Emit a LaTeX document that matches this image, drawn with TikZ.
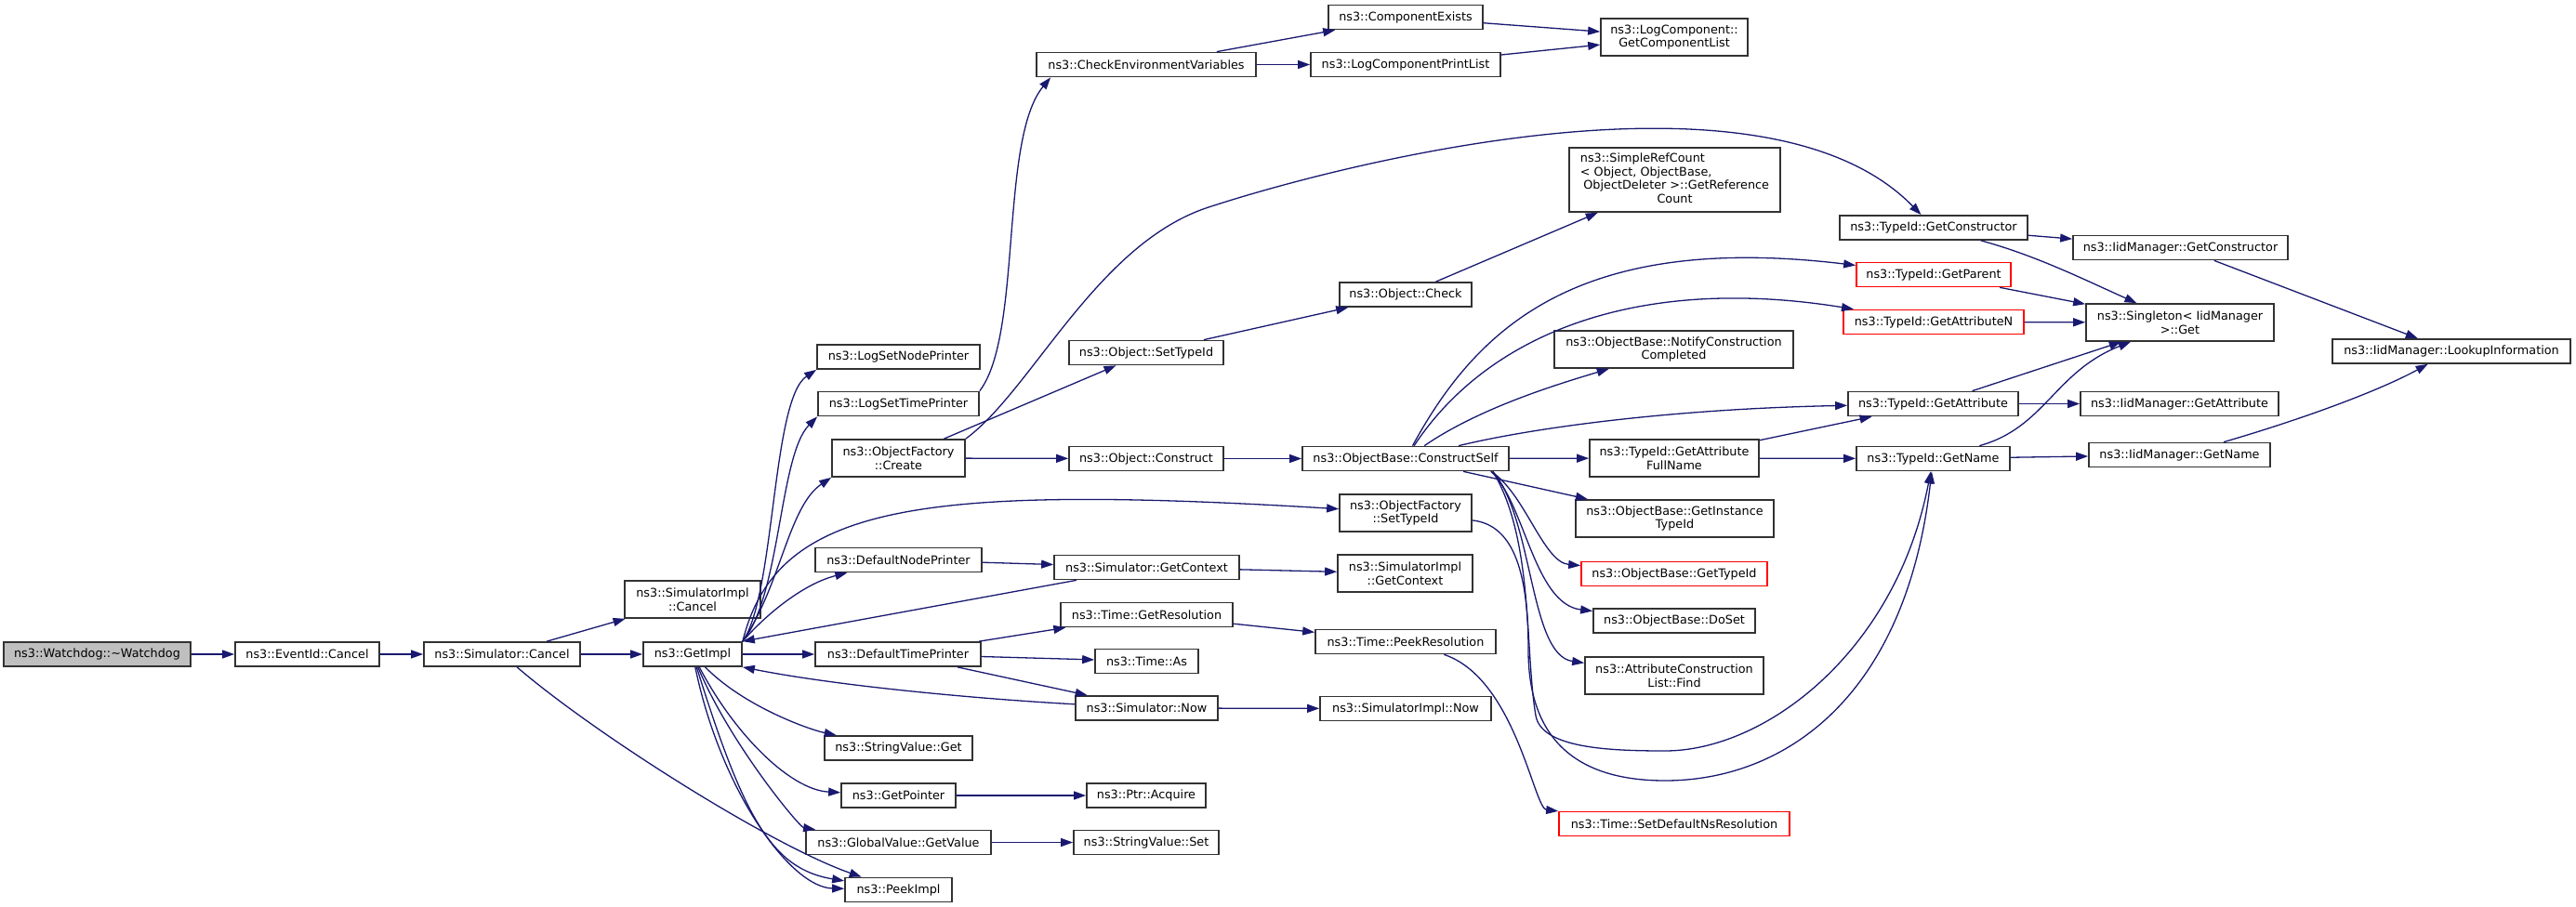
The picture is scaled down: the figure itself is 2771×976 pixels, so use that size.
\documentclass[tikz,border=0pt]{standalone}
\usepackage{fontspec}
\setmainfont{DejaVu Sans}
\usetikzlibrary{arrows.meta, calc}
\definecolor{EdgeBlue}{RGB}{25, 25, 112}
\definecolor{BoxLine}{RGB}{50, 50, 50}
\definecolor{BoxRed}{RGB}{255, 0, 0}
\definecolor{BoxGray}{RGB}{191, 191, 191}

\tikzset{
  fn/.style={draw=BoxLine, line width=1.7pt, fill=white, rectangle, minimum height=26pt,
    inner xsep=2pt, inner ysep=2pt, font=\fontsize{12.8}{14.7}\selectfont},
  fnred/.style={fn, draw=BoxRed},
  fnroot/.style={fn, fill=BoxGray},
  twoline/.style={align=center, minimum height=40pt},
  call/.style={draw=EdgeBlue, line width=1.3pt, -{Triangle[length=13pt, width=9pt]}}
}

\begin{document}
\begin{tikzpicture}[x=1pt, y=-1pt]
            \useasboundingbox (0,0) rectangle (2771,976);

            % Root and first calls
            \node[fnroot, minimum width=201pt] (wd) at (104.5,704) {ns3::Watchdog::\textasciitilde Watchdog};
            \node[fn, minimum width=155pt] (evc) at (330.5,704) {ns3::EventId::Cancel};
            \node[fn, minimum width=168pt] (simc) at (540,704) {ns3::Simulator::Cancel};
            \node[fn, twoline, minimum width=146pt] (simic) at (745,645) {ns3::SimulatorImpl\\::Cancel};
            \node[fn, minimum width=106pt] (gimpl) at (745,704) {ns3::GetImpl};

            % Called by GetImpl
            \node[fn, minimum width=175pt] (lsnp) at (966.5,384) {ns3::LogSetNodePrinter};
            \node[fn, minimum width=173pt] (lstp) at (966.5,434.5) {ns3::LogSetTimePrinter};
            \node[fn, twoline, minimum width=143pt] (ofc) at (966.5,493) {ns3::ObjectFactory\\::Create};
            \node[fn, minimum width=179pt] (dnp) at (966.5,602.5) {ns3::DefaultNodePrinter};
            \node[fn, minimum width=178pt] (dtp) at (966,704) {ns3::DefaultTimePrinter};
            \node[fn, minimum width=159pt] (svget) at (966.5,805) {ns3::StringValue::Get};
            \node[fn, minimum width=123pt] (gptr) at (966.5,856) {ns3::GetPointer};
            \node[fn, minimum width=199pt] (gvgv) at (966.5,906.5) {ns3::GlobalValue::GetValue};
            \node[fn, minimum width=115pt] (peek) at (966.5,957.5) {ns3::PeekImpl};

            % Third column
            \node[fn, minimum width=236pt] (cev) at (1233,69.5) {ns3::CheckEnvironmentVariables};
            \node[fn, minimum width=166pt] (osti) at (1233,379.5) {ns3::Object::SetTypeId};
            \node[fn, minimum width=166pt] (ocon) at (1233,493.5) {ns3::Object::Construct};
            \node[fn, minimum width=199pt] (sgc) at (1233.5,610.5) {ns3::Simulator::GetContext};
            \node[fn, minimum width=185pt] (tgr) at (1233.5,661.5) {ns3::Time::GetResolution};
            \node[fn, minimum width=111pt] (tas) at (1233.5,711.5) {ns3::Time::As};
            \node[fn, minimum width=153pt] (snow) at (1233.5,762) {ns3::Simulator::Now};
            \node[fn, minimum width=128pt] (pacq) at (1233,856) {ns3::Ptr::Acquire};
            \node[fn, minimum width=156pt] (svset) at (1233,906.5) {ns3::StringValue::Set};

            % Fourth column
            \node[fn, minimum width=166pt] (cex) at (1512,18.5) {ns3::ComponentExists};
            \node[fn, minimum width=204pt] (lcpl) at (1512,69.5) {ns3::LogComponentPrintList};
            \node[fn, minimum width=142pt] (ochk) at (1512,317) {ns3::Object::Check};
            \node[fn, minimum width=222pt] (ocs) at (1512,493.5) {ns3::ObjectBase::ConstructSelf};
            \node[fn, twoline, minimum width=142pt] (ofsti) at (1512,552) {ns3::ObjectFactory\\::SetTypeId};
            \node[fn, twoline, minimum width=145pt] (sigc) at (1511.5,617) {ns3::SimulatorImpl\\::GetContext};
            \node[fn, minimum width=194pt] (tpr) at (1512,690.5) {ns3::Time::PeekResolution};
            \node[fn, minimum width=184pt] (sinow) at (1512,762.5) {ns3::SimulatorImpl::Now};

            % Fifth column
            \node[fn, twoline, minimum width=158pt] (lcgcl) at (1801,40) {ns3::LogComponent::\\GetComponentList};
            \node[fn, minimum width=227pt, minimum height=69pt] (srcgrc) at (1801.5,193.5) {\begin{tabular}{@{}l@{}}ns3::SimpleRefCount\\\textless{} Object, ObjectBase,\\\hspace{3.5pt}ObjectDeleter \textgreater::GetReference\\\multicolumn{1}{@{}c@{}}{Count}\end{tabular}};
            \node[fn, twoline, minimum width=257pt] (obncc) at (1800.5,376) {ns3::ObjectBase::NotifyConstruction\\Completed};
            \node[fn, twoline, minimum width=182pt] (tgafn) at (1801,493) {ns3::TypeId::GetAttribute\\FullName};
            \node[fn, twoline, minimum width=213pt] (obgit) at (1801.5,558) {ns3::ObjectBase::GetInstance\\TypeId};
            \node[fnred, minimum width=200pt] (obgti) at (1801,617.5) {ns3::ObjectBase::GetTypeId};
            \node[fn, minimum width=174pt] (obds) at (1801,668) {ns3::ObjectBase::DoSet};
            \node[fn, twoline, minimum width=192pt] (acf) at (1801,727) {ns3::AttributeConstruction\\List::Find};
            \node[fnred, minimum width=248pt] (tsdnr) at (1801,886.5) {ns3::Time::SetDefaultNsResolution};

            % TypeId column
            \node[fn, minimum width=202pt] (tgc) at (2080,245) {ns3::TypeId::GetConstructor};
            \node[fnred, minimum width=166pt] (tgp) at (2080,295.5) {ns3::TypeId::GetParent};
            \node[fnred, minimum width=194pt] (tgan) at (2080,346.5) {ns3::TypeId::GetAttributeN};
            \node[fn, minimum width=183pt] (tga) at (2079.5,434.5) {ns3::TypeId::GetAttribute};
            \node[fn, minimum width=165pt] (tgn) at (2079.5,493.5) {ns3::TypeId::GetName};

            % IidManager column
            \node[fn, minimum width=231pt] (imgc) at (2345.5,266.5) {ns3::IidManager::GetConstructor};
            \node[fn, twoline, minimum width=202pt] (sgget) at (2345,347) {ns3::Singleton\textless{} IidManager\\\textgreater::Get};
            \node[fn, minimum width=213pt] (imga) at (2344.5,434.5) {ns3::IidManager::GetAttribute};
            \node[fn, minimum width=195pt] (imgn) at (2344.5,489.5) {ns3::IidManager::GetName};
            \node[fn, minimum width=256pt] (imli) at (2637,378) {ns3::IidManager::LookupInformation};

            % Root calls
            \draw[call] (wd) -- (evc);
            \draw[call] (evc) -- (simc);
            \draw[call] (simc) -- (simic);
            \draw[call] (simc) -- (gimpl);
            \draw[call] (simc) .. controls (640,790) and (830,910) .. (peek);

            % GetImpl fan
            \draw[call] (gimpl.north east) .. controls (834,640) and (830,430) .. (lsnp.south west);
            \draw[call] (gimpl.north east) .. controls (840,640) and (838,490) .. (lstp.south west);
            \draw[call] (gimpl.north east) .. controls (840,630) and (848,545) .. (ofc.south west);
            \draw[call] (gimpl.north east) .. controls (835,545) and (980,520) .. (ofsti);
            \draw[call] (gimpl.north east) .. controls (825,660) and (865,628) .. (dnp);
            \draw[call] (gimpl) -- (dtp);
            \draw[call] (gimpl) .. controls (800,760) and (870,785) .. (svget);
            \draw[call] (gimpl) .. controls (790,790) and (850,850) .. (gptr);
            \draw[call] (gimpl) .. controls (785,800) and (860,890) .. (gvgv);
            \draw[call] (gimpl) .. controls (800,880) and (830,935) .. (peek);
            \draw[call] (gimpl) .. controls (775,850) and (850,955) .. (peek);

            % Printers and simulator
            \draw[call] (dnp) -- (sgc);
            \draw[call] (sgc) -- (gimpl.north east);
            \draw[call] (sgc) -- (sigc);
            \draw[call] (dtp) -- (tgr);
            \draw[call] (dtp) -- (tas);
            \draw[call] (dtp) -- (snow);
            \draw[call] (snow) .. controls (1050,752) and (900,738) .. (gimpl.south east);
            \draw[call] (snow) -- (sinow);
            \draw[call] (tgr) -- (tpr);
            \draw[call] (tpr) .. controls (1630,730) and (1650,870) .. (tsdnr);
            \draw[call] (gptr) -- (pacq);
            \draw[call] (gvgv) -- (svset);

            % Logging
            \draw[call] (lstp.north east) .. controls (1100,360) and (1075,150) .. ([xshift=16pt]cev.south west);
            \draw[call] (cev) -- (cex);
            \draw[call] (cev) -- (lcpl);
            \draw[call] (cex) -- (lcgcl);
            \draw[call] (lcpl) -- (lcgcl);

            % Object factory
            \draw[call] (ofc) -- (osti);
            \draw[call] (ofc) -- (ocon);
            \draw[call] (ofc.north east) .. controls (1110,420) and (1180,262) .. (1300,223)
                .. controls (1450,174) and (1900,60) .. (tgc);
            \draw[call] (osti) -- (ochk);
            \draw[call] (ochk) -- (srcgrc);
            \draw[call] (ocon) -- (ocs);

            % ConstructSelf
            \draw[call] (ocs) .. controls (1590,350) and (1700,250) .. (tgp);
            \draw[call] (ocs) .. controls (1600,360) and (1760,295) .. (tgan);
            \draw[call] (ocs) .. controls (1590,440) and (1670,415) .. (obncc);
            \draw[call] (ocs) .. controls (1650,460) and (1800,440) .. (tga);
            \draw[call] (ocs) -- (tgafn);
            \draw[call] (ocs) -- (obgit);
            \draw[call] ([xshift=-20pt]ocs.south east) .. controls (1640,530) and (1660,605) .. (obgti);
            \draw[call] ([xshift=-20pt]ocs.south east) .. controls (1640,540) and (1650,650) .. (obds);
            \draw[call] ([xshift=-18pt]ocs.south east) .. controls (1650,560) and (1645,705) .. (acf);
            \draw[call] ([xshift=-18pt]ocs.south east) .. controls (1650,580) and (1640,700) .. (1652,770)
                .. controls (1658,805) and (1730,808) .. (1791,808)
                .. controls (1900,808) and (2040,700) .. (tgn);
            \draw[call] (ofsti) .. controls (1630,565) and (1644,620) .. (1644,700)
                .. controls (1644,790) and (1690,840) .. (1791,840)
                .. controls (1920,840) and (2050,750) .. (tgn);

            % TypeId calls
            \draw[call] (tgafn) -- (tga);
            \draw[call] (tgafn) -- (tgn);
            \draw[call] (tgc) -- (imgc);
            \draw[call] (tgc) .. controls (2190,275) and (2240,300) .. (sgget);
            \draw[call] (tgp) -- (sgget);
            \draw[call] (tgan) -- (sgget);
            \draw[call] (tga) -- (sgget);
            \draw[call] (tga) -- (imga);
            \draw[call] (tgn) .. controls (2200,460) and (2210,400) .. (sgget);
            \draw[call] (tgn) -- (imgn);
            \draw[call] (imgc) -- (imli);
            \draw[call] (imgn) .. controls (2480,450) and (2560,420) .. (imli);
\end{tikzpicture}
\end{document}
